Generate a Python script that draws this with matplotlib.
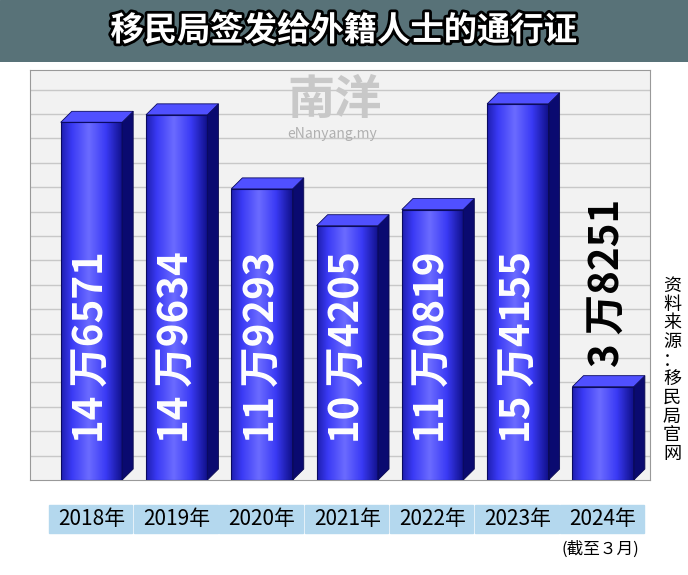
import matplotlib
matplotlib.use("Agg")
import matplotlib.pyplot as plt
import numpy as np
from matplotlib.patches import Rectangle, Polygon
import matplotlib.patheffects as pe
from matplotlib.colors import LinearSegmentedColormap

plt.rcParams['font.family'] = ['Noto Sans CJK SC', 'DejaVu Sans']

years = ["2018年", "2019年", "2020年", "2021年", "2022年", "2023年", "2024年"]
values = [146571, 149634, 119293, 104205, 110819, 154155, 38251]
labels = ["14 万6571", "14 万9634", "11 万9293", "10 万4205", "11 万0819", "15 万4155", "3 万8251"]

W, H = 688, 575
fig = plt.figure(figsize=(W/100, H/100), dpi=100)
fig.patch.set_facecolor("white")

tb = fig.add_axes([0, 1-62/H, 1, 62/H])
tb.set_xlim(0, 1); tb.set_ylim(0, 1); tb.axis("off")
tb.add_patch(Rectangle((0, 0), 1, 1, color="#587278"))
tb.text(0.5, 0.5, "移民局签发给外籍人士的通行证", ha="center", va="center", color="white",
        fontsize=24, fontweight="bold",
        path_effects=[pe.withStroke(linewidth=4, foreground="black")])

XL = (-0.72, 6.55)
ax = fig.add_axes([30/W, (H-480)/H, 620/W, 410/H])
ax.set_xlim(*XL)
ax.set_ylim(0, 168000)
ax.set_facecolor("#f2f2f2")
for s in ax.spines.values():
    s.set_color("#999999")
ax.set_xticks([]); ax.set_yticks([])
for yv in np.arange(10000, 168000, 10000):
    ax.axhline(yv, color="#c8c8c8", lw=1, zorder=0)
ax.text(2.3, 140000, "eNanyang.my", color="#b0b0b0", fontsize=10, ha="left", zorder=1)
ax.text(2.3, 150000, "南洋", color="#c8c8c8", fontsize=34, ha="left", zorder=1, fontweight="bold")

bw = 0.72
dx, dy = 0.13, 4500
grad = np.linspace(0, 1, 64)
grad = np.clip(1 - np.abs(grad - 0.45) * 1.6, 0, 1)[None, :]
cmap = LinearSegmentedColormap.from_list("b", ["#10108a", "#3a3af5", "#6a6aff"])
for i, v in enumerate(values):
    x0 = i - bw/2
    front = Rectangle((x0, 0), bw, v, facecolor="none", edgecolor="#0a0a60", lw=0.8, zorder=4)
    ax.add_patch(front)
    im = ax.imshow(grad, cmap=cmap, extent=(x0, x0+bw, 0, v), aspect="auto", zorder=3)
    im.set_clip_path(front)
    side = Polygon([(x0+bw, 0), (x0+bw+dx, dy), (x0+bw+dx, v+dy), (x0+bw, v)],
                   facecolor="#0a0a70", edgecolor="#0a0a50", lw=0.6, zorder=3)
    top = Polygon([(x0, v), (x0+dx, v+dy), (x0+bw+dx, v+dy), (x0+bw, v)],
                  facecolor="#5050ff", edgecolor="#0a0a60", lw=0.6, zorder=3)
    ax.add_patch(side); ax.add_patch(top)
    if v > 60000:
        ax.text(i, 15000, labels[i], rotation=90, ha="center", va="bottom", color="white",
                fontsize=29, fontweight="bold", zorder=5)
    else:
        ax.text(i+0.05, v+8000, labels[i], rotation=90, ha="center", va="bottom", color="black",
                fontsize=29, fontweight="bold", zorder=5)
ax.set_aspect("auto")

yl = fig.add_axes([30/W, (H-535)/H, 620/W, 32/H])
yl.set_xlim(*XL); yl.set_ylim(0, 1); yl.axis("off")
for i, y in enumerate(years):
    yl.add_patch(Rectangle((i-0.5, 0.05), 0.98, 0.9, color="#b4d8ee"))
    yl.text(i, 0.5, y, ha="center", va="center", fontsize=15, color="black")

fig.text(600/W, 1-549/H, "(截至３月)", ha="center", va="center", fontsize=12)
fig.text(672/W, 1-370/H, "\n".join("资料来源：移民局官网"), ha="center", va="center",
         fontsize=13, linespacing=1.05)

fig.savefig("out.png", dpi=100)
